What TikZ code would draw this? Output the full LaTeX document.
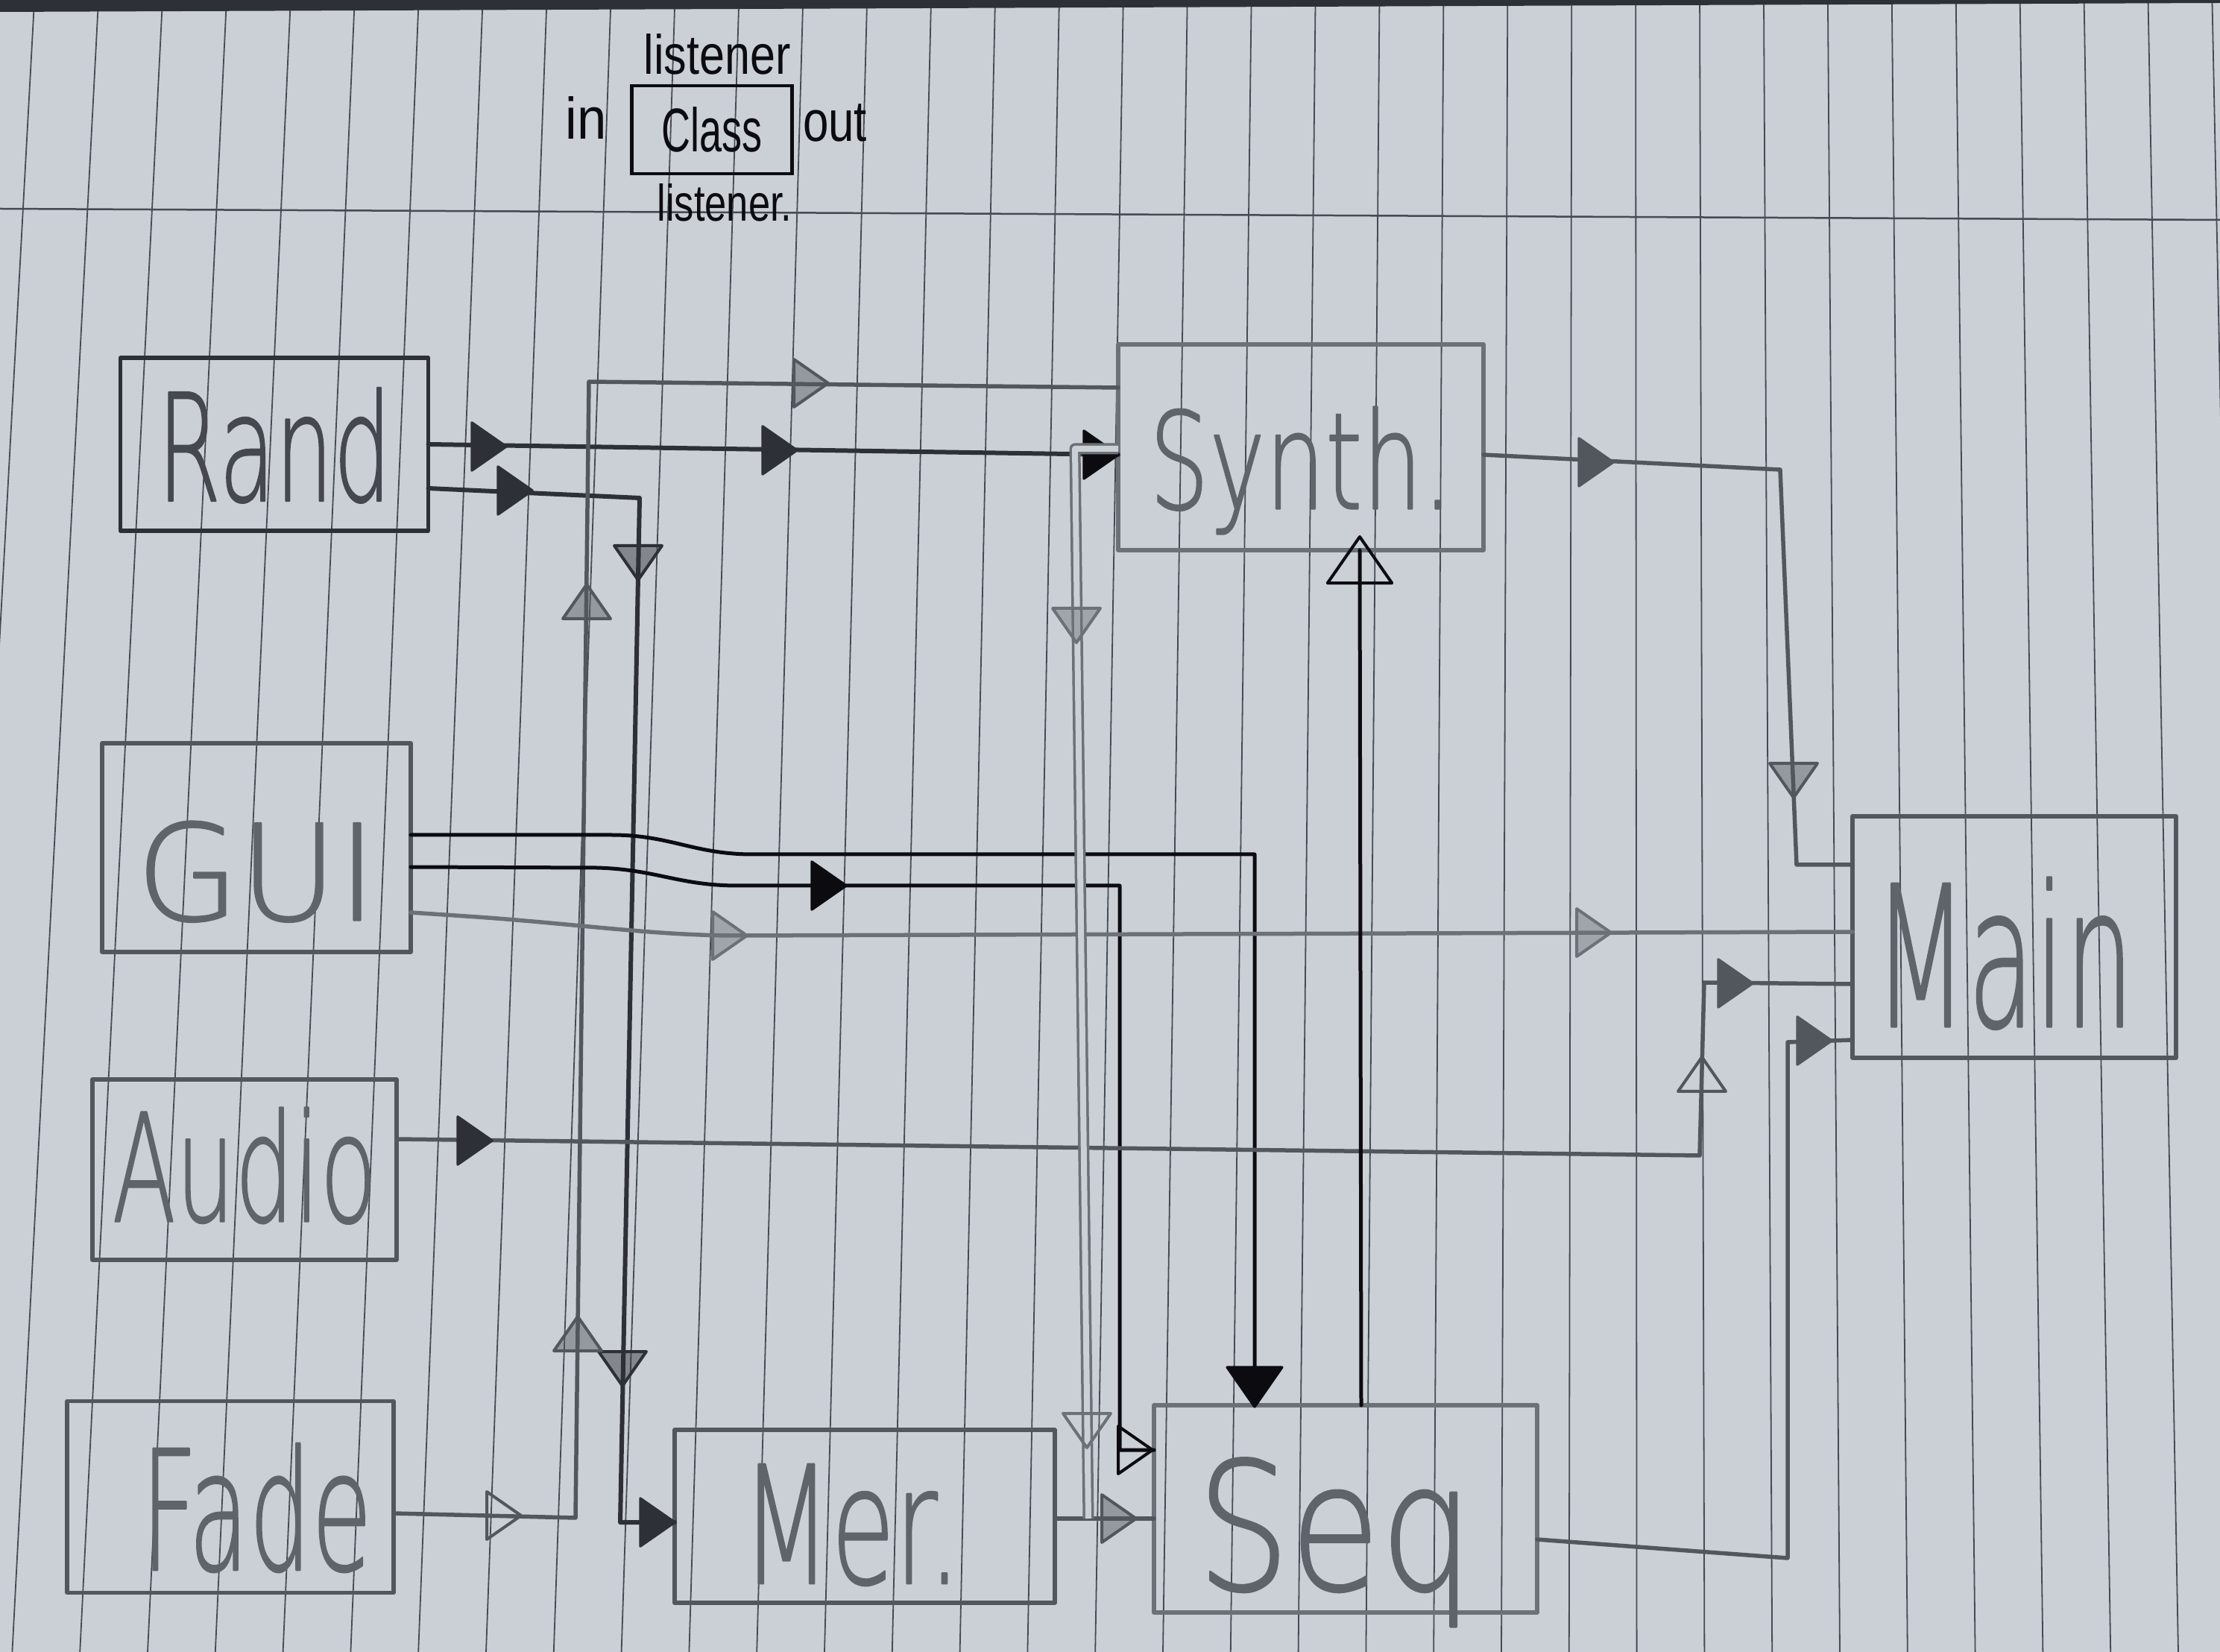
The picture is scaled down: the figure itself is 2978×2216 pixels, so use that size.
\documentclass[tikz,border=0pt]{standalone}
\usepackage{fontspec}
\usepackage{graphicx}
\newfontfamily\hand[FakeBold=1.2]{DejaVu Sans ExtraLight}
\newfontfamily\inkf{Liberation Sans}
\definecolor{paper}{RGB}{203,207,214}
\definecolor{rulec}{RGB}{70,74,82}
\definecolor{pdark}{RGB}{45,48,54}
\definecolor{pmid}{RGB}{82,86,93}
\definecolor{plight}{RGB}{108,112,119}
\definecolor{ink}{RGB}{12,12,16}
\definecolor{txt}{RGB}{95,99,106}
\newcommand\lbl[3]{\resizebox{#1}{#2}{\hand #3}}
\newcommand\ilbl[3]{\resizebox{#1}{#2}{\inkf #3}}
\tikzset{
  box/.style={draw=#1, line width=0.55mm, inner sep=0pt, outer sep=0pt, text depth=0pt, text=txt, line join=round},
  inkbox/.style={draw=ink, line width=0.45mm, inner sep=0pt, outer sep=0pt, text=ink},
  inktext/.style={inner sep=0pt, text=ink},
  cdark/.style={draw=pdark, line width=0.6mm, line join=round, line cap=round},
  cmid/.style={draw=pmid, line width=0.55mm, line join=round, line cap=round},
  clight/.style={draw=plight, line width=0.55mm, line join=round, line cap=round},
  cink/.style={draw=ink, line width=0.5mm, line join=round, line cap=round},
  cdouble/.style={draw=plight, line width=0.35mm, double=paper, double distance=0.8mm, line join=round},
  ahf/.pic={\filldraw[line width=0.35mm, line join=round] (0,0) -- (-46,-32) -- (-46,32) -- cycle;},
  ahh/.pic={\filldraw[fill opacity=0.45, line width=0.4mm, line join=round] (0,0) -- (-46,-32) -- (-46,32) -- cycle;},
  aho/.pic={\draw[line width=0.4mm, line join=round] (0,0) -- (-46,-32) -- (-46,32) -- cycle;},
}
\begin{document}
\begin{tikzpicture}[x=0.1mm,y=-0.1mm]
\useasboundingbox (0,0) rectangle (2978,2216);
\fill[paper] (0,0) rectangle (2978,2216);
\begin{scope}
\clip (0,0) rectangle (2978,2216);
\foreach \n in {-2,...,32}{\draw[rulec, line width=0.18mm] ({218+85.92*\n},0) -- ({107.2+90.8*\n},2216);}
\draw[rulec, line width=0.25mm] (0,280) -- (2978,295);
\fill[pdark] (0,0) -- (2978,0) -- (2978,4) -- (0,16) -- cycle;
\end{scope}

% legend
\node[inkbox, minimum width=21.5mm, minimum height=11.8mm] (class) at (955,174) {\ilbl{13.5mm}{6mm}{Class}};
\node[inktext, anchor=base] (ltop) at (962,100) {\ilbl{19.7mm}{5.4mm}{listener}};
\node[inktext, anchor=base] (lin) at (786,187) {\ilbl{5.5mm}{5.7mm}{in}};
\node[inktext, anchor=base] (lout) at (1120,190) {\ilbl{8.6mm}{5mm}{out}};
\node[inktext, anchor=base] (lbot) at (972,297) {\ilbl{18.1mm}{5mm}{listener.}};

% boxes
\node[box=pdark, text=pdark!85!paper, minimum width=41.3mm, minimum height=23.2mm, text height=15.2mm] (rand) at (368,596) {\lbl{31.4mm}{15.2mm}{Rand}};
\node[box=pmid, minimum width=41.4mm, minimum height=28mm, text height=19.5mm] (gui) at (344,1137) {\lbl{32.3mm}{13.3mm}{GUI}};
\node[box=pmid, minimum width=40.8mm, minimum height=24.2mm, text height=13.9mm] (audio) at (328,1569) {\lbl{35.5mm}{15.3mm}{Audio}};
\node[box=pmid, minimum width=43.8mm, minimum height=25.7mm, text height=19.6mm] (fade) at (309,2008) {\hspace*{7mm}\lbl{31mm}{17mm}{Fade}};
\node[box=pmid, minimum width=51mm, minimum height=23.2mm, text height=18mm] (mer) at (1160,2034) {\lbl{29.4mm}{16mm}{Mer.}\hspace*{3.6mm}};
\node[box=plight, minimum width=51.4mm, minimum height=27.8mm, text height=21.7mm] (seq) at (1805,2024) {\lbl{37.1mm}{17.7mm}{Seq}\hspace*{2.8mm}};
\node[box=plight, minimum width=49mm, minimum height=27.6mm, text height=16.5mm] (synth) at (1745,600) {\lbl{40.7mm}{13.7mm}{Synth.}};
\node[box=pmid, minimum width=43.4mm, minimum height=32.4mm, text height=24mm] (main) at (2702,1257) {\lbl{34.9mm}{20mm}{Main}\hspace*{2.8mm}};

% Rand -> Synth
\draw[cdark] (rand.east) -- (synth.west |- 0,610);
\pic[color=pdark] at (679,599) {ahf};
\pic[color=pdark] at (1069,604) {ahf};
\pic[color=ink] at (1500,610) {ahf};

% Rand -> Mer.
\draw[cdark] (rand.east |- 0,655) -- (858,668) -- (832,2042) -- (mer.west |- 0,2042);
\pic[color=pdark] at (714,658) {ahf};
\pic[color=pdark, rotate=-90] at (856,778) {ahh};
\pic[color=pdark, rotate=-90] at (835,1859) {ahh};
\pic[color=pdark] at (905,2042) {ahf};

% Fade -> Synth
\draw[cmid] (fade.east |- 0,2030) -- (772,2036) -- (790,512) -- (synth.west |- 0,520);
\pic[color=pmid] at (699,2033) {aho};
\pic[color=pmid, rotate=90] at (775,1766) {ahh};
\pic[color=pmid, rotate=90] at (787,784) {ahh};
\pic[color=pmid] at (1111,514) {ahh};

% GUI -> Seq
\draw[cink] (gui.east |- 0,1120) -- (820,1120) .. controls (900,1120) and (930,1146) .. (1010,1146) -- (1683,1146) -- (seq.north -| 1683,0);
\pic[color=ink, rotate=-90, scale=1.15] at (1683,1887) {ahf};

% GUI -> Seq (second)
\draw[cink] (gui.east |- 0,1163) -- (800,1164) .. controls (880,1166) and (910,1188) .. (990,1188) -- (1502,1188) -- (1502,1945) -- (seq.west |- 0,1945);
\pic[color=ink] at (1135,1188) {ahf};
\pic[color=ink] at (1546,1945) {aho};

% GUI -> Main
\draw[clight] (gui.east |- 0,1224) -- (640,1230) .. controls (780,1240) and (880,1255) .. (990,1255) -- (main.west |- 0,1250);
\pic[color=plight] at (1002,1255) {ahh};
\pic[color=plight] at (2161,1251) {ahh};

% Synth -> Main
\draw[cmid] (synth.east |- 0,610) -- (2388,630) -- (2410,1160) -- (main.west |- 0,1160);
\pic[color=pmid] at (2164,620) {ahf};
\pic[color=pmid, rotate=-90] at (2406,1070) {ahh};

% Audio -> Main
\draw[cmid] (audio.east |- 0,1528) -- (2280,1550) -- (2286,1318) -- (main.west |- 0,1320);
\pic[color=pdark] at (660,1530) {ahf};
\pic[color=pmid, rotate=90] at (2283,1418) {aho};
\pic[color=pmid] at (2351,1319) {ahf};

% Seq -> Main
\draw[cmid] (seq.east |- 0,2065) -- (2398,2090) -- (2398,1398) -- (main.west |- 0,1395);
\pic[color=pmid] at (2457,1396) {ahf};

% Mer. -> Seq
\draw[cmid] (mer.east |- 0,2037) -- (seq.west |- 0,2037);
\pic[color=pmid] at (1524,2037) {ahh};

% Synth -> Seq (double pencil line)
\coordinate (join) at (1460,2037);
\draw[cdouble] (synth.west |- 0,602) -- (1442,602) -- (join);
\pic[color=plight, rotate=-90] at (1444,862) {ahh};
\pic[color=plight, rotate=-90] at (1458,1942) {aho};

% Seq -> Synth
\draw[cink] (seq.north -| 1826,0) -- (synth.south -| 1824,0);
\pic[color=ink, rotate=90, scale=1.35] at (1824,720) {aho};
\end{tikzpicture}
\end{document}
